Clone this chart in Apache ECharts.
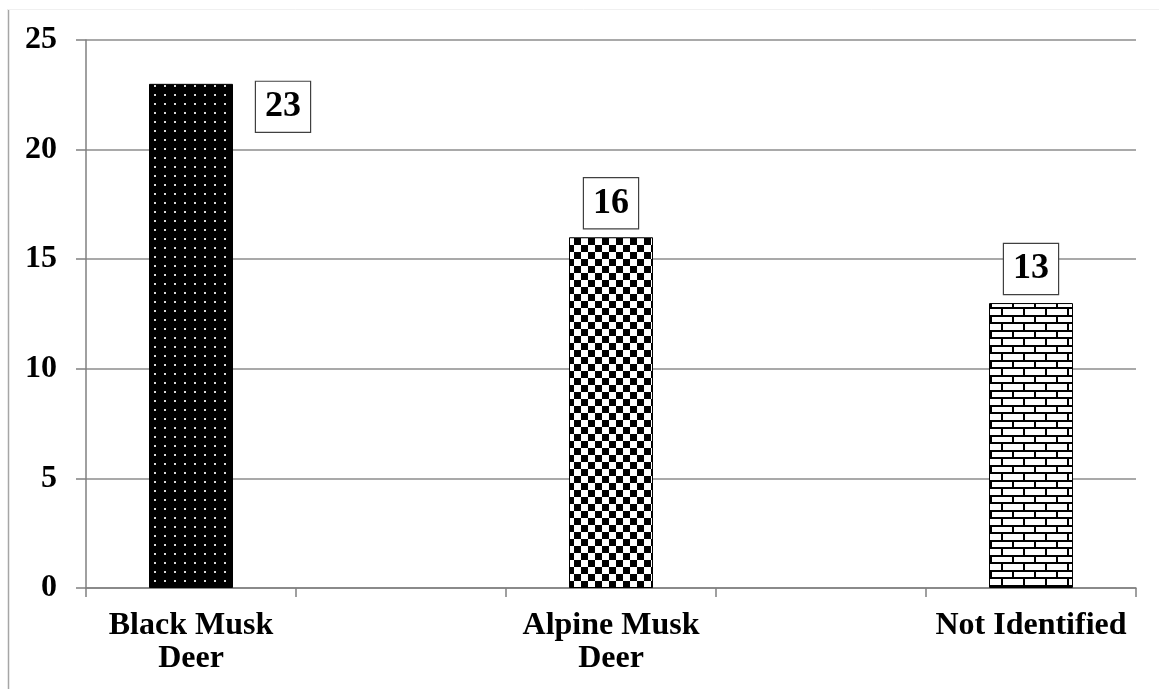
<!DOCTYPE html>
<html>
<head>
<meta charset="utf-8">
<script src="https://cdn.jsdelivr.net/npm/echarts@6/dist/echarts.min.js"></script>
<style>
html,body{margin:0;padding:0;background:#fff;}
#chart{width:1159px;height:689px;}
</style>
</head>
<body>
<div id="chart"></div>
<script>
// Data
const categories = ['Black Musk\nDeer', '', 'Alpine Musk\nDeer', '', 'Not Identified'];
const values = [23, null, 16, null, 13];
const yTicks = [0, 5, 10, 15, 20, 25];

const FONT = "'Liberation Serif', 'Times New Roman', serif";

function makeCanvas(w, h, draw) {
  const c = document.createElement('canvas');
  c.width = w; c.height = h;
  draw(c.getContext('2d'));
  return c;
}
const dotPattern = makeCanvas(10, 9, ctx => {
  ctx.fillStyle = '#000'; ctx.fillRect(0, 0, 10, 9);
  ctx.fillStyle = '#d8d8d8'; ctx.fillRect(4, 4, 2, 2);
});
const checkPattern = makeCanvas(14, 14, ctx => {
  ctx.fillStyle = '#fff'; ctx.fillRect(0, 0, 14, 14);
  ctx.fillStyle = '#000'; ctx.fillRect(0, 0, 7, 7); ctx.fillRect(7, 7, 7, 7);
});
const brickPattern = makeCanvas(22, 15, ctx => {
  ctx.fillStyle = '#fff'; ctx.fillRect(0, 0, 22, 15);
  ctx.fillStyle = '#000';
  ctx.fillRect(0, 0, 22, 2);
  ctx.fillRect(0, 7, 22, 2);
  ctx.fillRect(0, 0, 2, 8);
  ctx.fillRect(11, 7, 2, 8);
});
const patterns = [dotPattern, null, checkPattern, null, brickPattern];
const labelOffsets = [[92, 57], null, [0, 0], null, [0, 0]];

const seriesData = values.map((v, i) => {
  if (v === null) return null;
  return {
    value: v,
    itemStyle: { color: { image: patterns[i], repeat: 'repeat' } },
    label: { offset: labelOffsets[i] }
  };
});

const chart = echarts.init(document.getElementById('chart'));
chart.setOption({
  animation: false,
  backgroundColor: '#fff',
  grid: { left: 86, right: 23, top: 40, bottom: 101, containLabel: false },
  graphic: [
    { type: 'line', shape: { x1: 8.5, y1: 9, x2: 8.5, y2: 689 }, style: { stroke: '#a6a6a6', lineWidth: 1.5 } },
    { type: 'line', shape: { x1: 8, y1: 9.5, x2: 1159, y2: 9.5 }, style: { stroke: '#f0f0f0', lineWidth: 1 } }
  ],
  xAxis: {
    type: 'category',
    data: categories,
    boundaryGap: true,
    axisLine: { lineStyle: { color: '#808080', width: 1.5 } },
    axisTick: { show: true, alignWithLabel: false, length: 9, lineStyle: { color: '#808080', width: 1.5 } },
    axisLabel: {
      interval: 0,
      margin: 21,
      color: '#000',
      fontFamily: FONT,
      fontWeight: 'bold',
      fontSize: 32,
      lineHeight: 33
    },
    splitLine: { show: false }
  },
  yAxis: {
    type: 'value',
    min: yTicks[0],
    max: yTicks[yTicks.length - 1],
    interval: 5,
    axisLine: { show: true, lineStyle: { color: '#808080', width: 1.5 } },
    axisTick: { show: true, length: 10, lineStyle: { color: '#808080', width: 1.5 } },
    axisLabel: {
      margin: 29,
      color: '#000',
      fontFamily: FONT,
      fontWeight: 'bold',
      fontSize: 32
    },
    splitLine: { show: true, lineStyle: { color: '#8c8c8c', width: 1.5 } }
  },
  series: [{
    type: 'bar',
    data: seriesData,
    barWidth: '40%',
    itemStyle: { borderColor: '#000', borderWidth: 1 },
    label: {
      show: true,
      position: 'top',
      distance: 9,
      color: '#000',
      fontFamily: FONT,
      fontWeight: 'bold',
      fontSize: 36,
      backgroundColor: '#fff',
      borderColor: '#404040',
      borderWidth: 1.2,
      padding: [7, 9, 7, 9]
    }
  }]
});
</script>
</body>
</html>
